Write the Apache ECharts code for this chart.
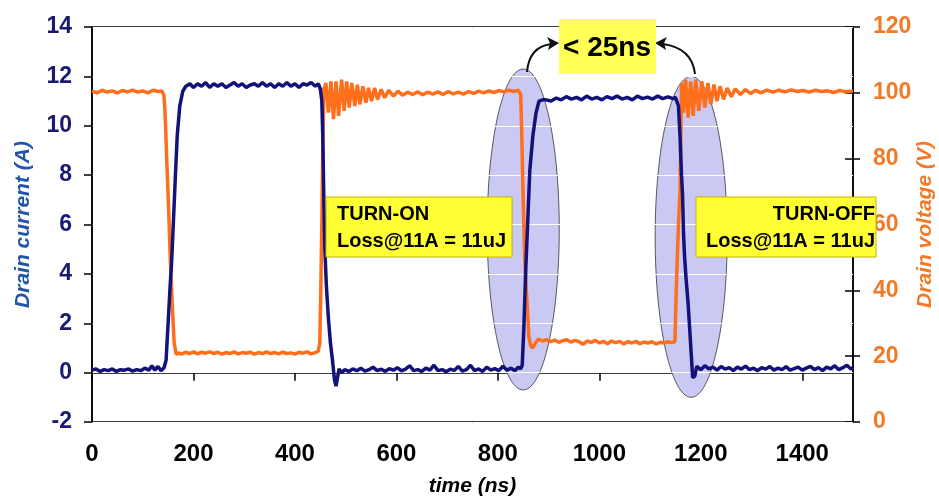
<!DOCTYPE html>
<html>
<head>
<meta charset="utf-8">
<script src="https://cdn.jsdelivr.net/npm/echarts@6/dist/echarts.min.js"></script>
<style>html,body{margin:0;padding:0;background:#fff}#c{width:939px;height:497px}</style>
</head>
<body>
<div id="c"></div>
<script>
// ---- data ----
const timeTicks = [0, 200, 400, 600, 800, 1000, 1200, 1400];
const currentTicks = [-2, 0, 2, 4, 6, 8, 10, 12, 14];
const voltageTicks = [0, 20, 40, 60, 80, 100, 120];

const currentTime = [
  0, 8, 16, 24, 32, 40, 48, 56, 64, 72, 80, 88, 96, 104, 112, 118, 124, 130, 136, 142,
  146, 150, 154, 157, 160, 164, 168, 173, 179, 185, 193,
  200, 208, 216, 224, 232, 240, 248, 256, 264, 272, 280, 288, 296, 304, 312, 320, 328, 336, 344,
  352, 360, 368, 376, 384, 392, 400, 408, 416, 424, 432, 440, 446,
  450, 453, 455, 457, 459, 462, 466, 470, 474, 478, 481, 484, 487, 492,
  498, 506, 514, 522, 530, 538, 546, 554, 562, 570, 578, 586, 594, 602, 610, 618, 626, 634, 642, 650,
  658, 666, 674, 682, 690, 698, 706, 714, 722, 730, 738, 746, 754, 762, 770, 778, 786, 794, 802, 810,
  818, 826, 834, 840, 845,
  848, 851, 855, 859, 863, 869, 875, 881, 888,
  895, 905, 915, 925, 935, 945, 955, 965, 975, 985, 995, 1005, 1015, 1025, 1035, 1045, 1055, 1065,
  1075, 1085, 1095, 1105, 1115, 1125, 1135, 1145, 1150,
  1152, 1156, 1159, 1162, 1164, 1166, 1168, 1171, 1175, 1178, 1181, 1184, 1188,
  1192, 1200, 1208, 1216, 1224, 1232, 1240, 1248, 1256, 1264, 1272, 1280, 1288, 1296, 1304, 1312,
  1320, 1328, 1336, 1344, 1352, 1360, 1368, 1376, 1384, 1392, 1400, 1408, 1416, 1424, 1432, 1440,
  1448, 1456, 1464, 1472, 1480, 1488, 1496, 1500
];
const currentValues = [
  0.10, 0.15, 0.05, 0.12, 0.08, 0.15, 0.05, 0.12, 0.10, 0.15, 0.06, 0.12, 0.08, 0.18, 0.10, 0.28, 0.10, 0.25, 0.08, 0.20,
  0.5, 2.0, 3.5, 4.5, 5.9, 7.8, 9.6, 10.8, 11.4, 11.6, 11.7,
  11.55, 11.7, 11.6, 11.75, 11.55, 11.7, 11.6, 11.7, 11.55, 11.65, 11.75, 11.6, 11.7, 11.55, 11.65, 11.7, 11.6, 11.75, 11.6,
  11.7, 11.55, 11.7, 11.6, 11.75, 11.6, 11.7, 11.55, 11.7, 11.65, 11.75, 11.6, 11.7,
  11.5, 11.0, 9.5, 7.0, 5.0, 3.5, 2.2, 1.2, 0.5, -0.3, -0.55, -0.2, 0.15, 0.0,
  0.12, 0.05, 0.15, 0.08, 0.18, 0.06, 0.12, 0.22, 0.08, 0.14, 0.05, 0.16, 0.10, 0.20, 0.07, 0.14, 0.28, 0.08, 0.12, 0.05,
  0.18, 0.10, 0.30, 0.08, 0.12, 0.04, 0.14, 0.09, 0.25, 0.06, 0.12, 0.30, 0.08, 0.15, 0.05, 0.22, 0.10, 0.16, 0.08, 0.26,
  0.10, 0.18, 0.08, 0.22, 0.15,
  0.3, 1.7, 4.2, 6.2, 8.2, 9.6, 10.5, 11.0, 11.05,
  11.05, 11.0, 11.12, 11.05, 11.18, 11.08, 11.15, 11.05, 11.2, 11.08, 11.15, 11.05, 11.18, 11.1, 11.2, 11.08, 11.15, 11.05,
  11.2, 11.1, 11.16, 11.08, 11.2, 11.1, 11.17, 11.1, 11.15,
  11.1, 10.8, 9.6, 8.0, 7.2, 5.6, 4.7, 3.8, 2.8, 1.8, 0.8, -0.2, -0.15,
  0.25, 0.12, 0.28, 0.15, 0.22, 0.10, 0.25, 0.14, 0.20, 0.08, 0.22, 0.14, 0.26, 0.12, 0.18, 0.08,
  0.20, 0.14, 0.25, 0.10, 0.18, 0.12, 0.24, 0.10, 0.16, 0.22, 0.10, 0.18, 0.25, 0.12, 0.20, 0.08,
  0.22, 0.15, 0.28, 0.12, 0.20, 0.30, 0.15, 0.20
];

const voltageTime = [
  0, 10, 20, 30, 40, 50, 60, 70, 80, 90, 100, 110, 120, 130, 138,
  142, 144, 148, 151, 154, 158, 162, 166,
  170, 176, 184, 192, 200, 208, 216, 224, 232, 240, 248, 256, 264, 272, 280, 288, 296, 304, 312, 320,
  328, 336, 344, 352, 360, 368, 376, 384, 392, 400, 408, 416, 424, 432, 440, 446,
  449, 451, 453, 455, 457,
  461, 466, 471, 476, 481, 486, 492, 497, 502, 507, 512, 518, 523, 528, 534, 540, 545, 551, 557, 563,
  570, 577, 585, 594, 603, 612, 622, 632, 642, 652, 662, 672, 682, 692, 702, 712, 722, 732, 742, 752,
  762, 772, 782, 792, 802, 812, 822, 832, 840,
  845, 847, 850, 853, 856, 858, 861, 865, 869, 874,
  880, 888, 896, 904, 912, 920, 928, 936, 944, 952, 960, 968, 976, 984, 992, 1000, 1008, 1016, 1024,
  1032, 1040, 1048, 1056, 1064, 1072, 1080, 1088, 1096, 1104, 1112, 1120, 1128, 1136, 1144, 1149,
  1152, 1156, 1159, 1161, 1162,
  1166, 1170, 1175, 1180, 1185, 1190, 1196, 1202, 1208, 1214, 1220, 1226, 1232, 1238, 1245, 1252,
  1260, 1268, 1278, 1288, 1298, 1308, 1318, 1330,
  1342, 1354, 1366, 1378, 1390, 1402, 1414, 1426, 1438, 1450, 1462, 1474, 1486, 1500
];
const voltageValues = [
  100.5, 100.0, 100.8, 100.2, 100.6, 100.0, 100.7, 100.3, 100.8, 100.2, 100.6, 100.0, 100.8, 100.4, 100.6,
  99, 94, 77, 65, 51, 36, 24, 20.5,
  21.0, 20.6, 21.2, 20.8, 21.3, 20.7, 21.2, 20.9, 21.3, 20.8, 21.2, 20.6, 21.1, 20.8, 21.3, 20.7, 21.1, 20.9, 21.2, 20.6,
  21.1, 20.8, 21.3, 20.8, 21.1, 20.7, 21.2, 20.8, 21.0, 20.6, 21.2, 20.9, 21.3, 20.7, 21.1, 21.5,
  24, 40, 60, 85, 101,
  103, 94, 103.5, 92, 103.5, 93, 104, 94.5, 103.5, 95.5, 103, 96, 102.5, 96.5, 102, 97, 101.5, 97.5, 101.5, 98,
  101, 98.5, 100.8, 99, 100.5, 99.3, 100.2, 99.5, 100.3, 99.4, 100.2, 99.6, 100.3, 99.5, 100.4, 99.7, 100.2, 99.6, 100.4, 99.8,
  100.5, 100.0, 100.6, 100.1, 100.7, 100.3, 100.8, 100.4, 100.8,
  99.5, 88, 67, 50, 40, 35, 26, 23, 22.5, 24.0,
  25.2, 24.6, 25.0, 24.4, 24.9, 24.2, 24.7, 25.0, 24.3, 24.8, 24.4, 23.6, 24.6, 24.2, 24.8, 24.0, 24.5, 23.8, 24.6,
  24.1, 24.5, 23.7, 24.4, 24.0, 24.5, 23.8, 24.3, 24.0, 24.4, 23.7, 24.2, 24.0, 24.4, 24.1, 24.5,
  42, 60, 70, 90, 103,
  94, 104, 92.5, 103.5, 93, 104, 94.5, 103.5, 95.5, 103, 96.5, 102.5, 97.5, 102, 98, 101.5,
  98.8, 101.2, 99.5, 101, 99.8, 100.8, 100.0, 100.8,
  100.2, 100.8, 100.3, 100.9, 100.4, 100.7, 100.2, 100.8, 100.4, 100.6, 100.1, 100.7, 100.3, 100.6
];

// highlight ellipses: [centre time, centre current, half-width ns, half-height A]
const ellipses = [[850, 5.8, 71, 6.5], [1181, 5.5, 71, 6.5]];

const annotations = {
  turnOn: ['TURN-ON', 'Loss@11A = 11uJ'],
  turnOff: ['TURN-OFF', 'Loss@11A = 11uJ'],
  delay: '< 25ns'
};

// ---- chart ----
const FONT = "'Liberation Sans', Arial, sans-serif";
const NAVY = '#12127a';
const ORANGE = '#ff6e1a';
const chart = echarts.init(document.getElementById('c'), null, {renderer: 'canvas'});

const currentData = currentTime.map((t, i) => [t, currentValues[i]]);
const voltageData = voltageTime.map((t, i) => [t, voltageValues[i]]);

chart.setOption({
  animation: false,
  backgroundColor: '#fff',
  grid: {left: 92, right: 86, top: 27, bottom: 75, containLabel: false, outerBoundsMode: 'none',
    show: true, borderColor: '#000', borderWidth: 1.5, backgroundColor: 'transparent'},
  xAxis: {
    type: 'value', min: 0, max: 1500, interval: 200,
    name: 'time (ns)', nameLocation: 'middle', nameGap: 54, nameMoveOverlap: false,
    nameTextStyle: {fontFamily: FONT, fontSize: 21, fontWeight: 'bold', fontStyle: 'italic', color: '#000'},
    axisLine: {show: true, lineStyle: {color: '#000', width: 1.5}},
    axisTick: {show: true, inside: false, length: 8, lineStyle: {color: '#000', width: 1.5}},
    axisLabel: {margin: 20, showMaxLabel: false, fontFamily: FONT, fontSize: 24, fontWeight: 'bold', color: '#000',
      formatter: v => timeTicks.indexOf(v) >= 0 ? String(v) : ''},
    splitLine: {show: false}
  },
  yAxis: [
    {
      type: 'value', min: currentTicks[0], max: currentTicks[currentTicks.length - 1], interval: 2, position: 'left', z: 1.5,
      name: 'Drain current (A)', nameLocation: 'middle', nameGap: 58, nameRotate: 90, nameMoveOverlap: false,
      nameTextStyle: {fontFamily: FONT, fontSize: 21, fontWeight: 'bold', fontStyle: 'italic', color: '#2255a8'},
      axisLine: {show: true, lineStyle: {color: '#000', width: 1.5}},
      axisTick: {show: true, inside: false, length: 8, lineStyle: {color: '#000', width: 1.5}},
      axisLabel: {margin: 20, fontFamily: FONT, fontSize: 23, fontWeight: 'bold', color: '#1a1a70'},
      splitLine: {show: true, lineStyle: {color: '#ffffff', width: 1}}
    },
    {
      type: 'value', min: voltageTicks[0], max: voltageTicks[voltageTicks.length - 1], interval: 20, position: 'right',
      name: 'Drain voltage (V)', nameLocation: 'middle', nameGap: 62, nameRotate: 90, nameMoveOverlap: false,
      nameTextStyle: {fontFamily: FONT, fontSize: 21, fontWeight: 'bold', fontStyle: 'italic', color: '#f07a28'},
      axisLine: {show: true, lineStyle: {color: '#000', width: 1.5}},
      axisTick: {show: true, inside: false, length: 7, lineStyle: {color: '#000', width: 1.5}},
      axisLabel: {margin: 20, fontFamily: FONT, fontSize: 23, fontWeight: 'bold', color: '#f07a28'},
      splitLine: {show: false}
    },
    {
      type: 'value', min: voltageTicks[0], max: voltageTicks[voltageTicks.length - 1], interval: 20, position: 'right',
      axisLine: {show: false},
      axisTick: {show: true, inside: true, length: 8, lineStyle: {color: '#000', width: 1.5}},
      axisLabel: {show: false},
      splitLine: {show: false}
    }
  ],
  series: [
    {
      type: 'custom', yAxisIndex: 0, z: 1, silent: true,
      data: ellipses,
      renderItem: function (params, api) {
        const c = api.coord([api.value(0), api.value(1)]);
        const s = api.size([api.value(2), api.value(3)]);
        return {
          type: 'ellipse',
          shape: {cx: c[0], cy: c[1], rx: s[0], ry: s[1]},
          style: {fill: '#c9c9f4', stroke: '#333', lineWidth: 0.8}
        };
      }
    },
    {
      name: 'Drain voltage', type: 'line', yAxisIndex: 1, z: 3, data: voltageData,
      showSymbol: false, symbol: 'none', lineStyle: {color: ORANGE, width: 3.5}
    },
    {
      name: 'Drain current', type: 'line', yAxisIndex: 0, z: 4, data: currentData,
      showSymbol: false, symbol: 'none', lineStyle: {color: NAVY, width: 3.5}
    }
  ],
  graphic: [
    {type: 'bezierCurve', z: 100, shape: {x1: 527, y1: 72, x2: 551, y2: 44, cpx1: 529, cpy1: 47}, style: {stroke: '#111', lineWidth: 2, fill: null}},
    {type: 'polygon', z: 100, shape: {points: [[559, 43], [547, 37], [550, 43], [548, 50]]}, style: {fill: '#111'}},
    {type: 'bezierCurve', z: 100, shape: {x1: 695, y1: 74, x2: 663, y2: 44, cpx1: 692, cpy1: 48}, style: {stroke: '#111', lineWidth: 2, fill: null}},
    {type: 'polygon', z: 100, shape: {points: [[655, 43], [667, 37], [664, 43], [666, 50]]}, style: {fill: '#111'}},

    {type: 'rect', z: 100, shape: {x: 326, y: 197, width: 186, height: 60}, style: {fill: '#ffff33', stroke: '#c8b000', lineWidth: 1}},
    {type: 'text', z: 101, style: {x: 337, y: 214, text: annotations.turnOn[0], fontFamily: FONT, fontSize: 20, fontWeight: 'bold', fill: '#000', verticalAlign: 'middle'}},
    {type: 'text', z: 101, style: {x: 337, y: 241, text: annotations.turnOn[1], fontFamily: FONT, fontSize: 20, fontWeight: 'bold', fill: '#000', verticalAlign: 'middle'}},

    {type: 'rect', z: 100, shape: {x: 696, y: 197, width: 180, height: 60}, style: {fill: '#ffff33', stroke: '#c8b000', lineWidth: 1}},
    {type: 'text', z: 101, style: {x: 875, y: 214, text: annotations.turnOff[0], fontFamily: FONT, fontSize: 20, fontWeight: 'bold', fill: '#000', align: 'right', verticalAlign: 'middle'}},
    {type: 'text', z: 101, style: {x: 875, y: 241, text: annotations.turnOff[1], fontFamily: FONT, fontSize: 20, fontWeight: 'bold', fill: '#000', align: 'right', verticalAlign: 'middle'}},

    {type: 'rect', z: 100, shape: {x: 559, y: 19, width: 97, height: 55}, style: {fill: '#ffff55', stroke: null}},
    {type: 'text', z: 101, style: {x: 607, y: 48, text: annotations.delay, fontFamily: FONT, fontSize: 28, fontWeight: 'bold', fill: '#000', align: 'center', verticalAlign: 'middle'}}
  ]
});
</script>
</body>
</html>
